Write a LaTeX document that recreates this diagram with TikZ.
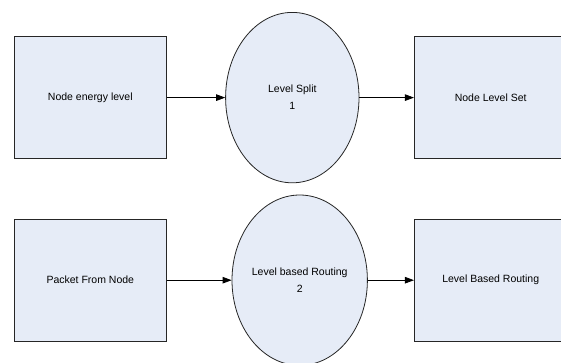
\documentclass[tikz,border=0pt]{standalone}
\usepackage{fontspec}
\setmainfont{Liberation Sans}
\usetikzlibrary{shapes.geometric,arrows.meta}
\definecolor{boxfill}{HTML}{E6ECF7}
\tikzset{
  procbox/.style={draw=black!85, line width=0.8pt, fill=boxfill, minimum width=152.7pt, minimum height=122pt, inner sep=0pt, font=\fontsize{10.5}{12.5}\selectfont},
  procell/.style={ellipse, draw=black!85, line width=0.8pt, fill=boxfill, minimum width=133.4pt, minimum height=170.4pt, inner sep=0pt, align=center, font=\fontsize{10.5}{17}\selectfont},
  flow/.style={line width=0.8pt, -{Triangle[length=9pt,width=6.5pt]}}
}
\begin{document}
\begin{tikzpicture}[x=1pt,y=-1pt]
\clip (0,0) rectangle (561,362);
\fill[white] (0,0) rectangle (561,362);
\node[procbox] (r1) at (90.3,97.6) {Node energy level};
\node[procell] (e1) at (292.3,97.6) {Level Split\\1};
\node[procbox] (r2) at (490.7,97.6) {Node Level Set};
\node[procbox] (r3) at (90.3,280.2) {Packet From Node};
\node[procell] (e2) at (299.7,280.2) {Level based Routing\\2};
\node[procbox] (r4) at (490.7,280.2) {Level Based Routing};
\draw[flow] (r1) -- (e1);
\draw[flow] (e1) -- (r2);
\draw[flow] (r3) -- (e2);
\draw[flow] (e2) -- (r4);
\end{tikzpicture}
\end{document}
